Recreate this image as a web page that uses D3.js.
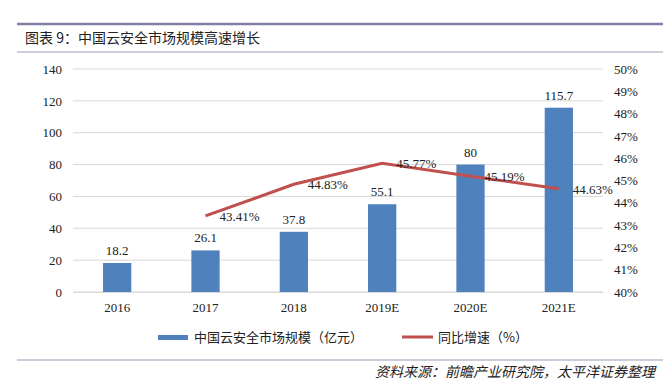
<!DOCTYPE html>
<html>
<head>
<meta charset="utf-8">
<script src="https://cdn.jsdelivr.net/npm/d3@7"></script>
<style>
  body { margin: 0; background: #fff; }
  svg { display: block; }
</style>
</head>
<body>
<div id="chart"></div>
<script>
const years = ["2016", "2017", "2018", "2019E", "2020E", "2021E"];
const marketSize = [18.2, 26.1, 37.8, 55.1, 80, 115.7];
const growth = [null, 43.41, 44.83, 45.77, 45.19, 44.63];
const leftTicks = [0, 20, 40, 60, 80, 100, 120, 140];
const rightTicks = [40, 41, 42, 43, 44, 45, 46, 47, 48, 49, 50];

const width = 663;
const height = 384;
const plot = { left: 73, right: 603, top: 69, bottom: 292 };
const serif = "'Liberation Serif', 'Times New Roman', serif";
const cjk = "'Noto Sans CJK SC', sans-serif";

const svg = d3.select("#chart")
  .append("svg")
  .attr("width", width)
  .attr("height", height);

function numText(sel) {
  sel.style("font-family", serif).style("font-size", "13px").attr("fill", "#222");
}

// header rules and title
svg.append("line")
  .attr("x1", 17).attr("x2", width)
  .attr("y1", 24).attr("y2", 24)
  .attr("stroke", "#7f7fa6").attr("stroke-width", 2.5);
svg.append("line")
  .attr("x1", 17).attr("x2", width)
  .attr("y1", 52).attr("y2", 52)
  .attr("stroke", "#9a9ab8").attr("stroke-width", 1);
svg.append("text")
  .attr("x", 25).attr("y", 43)
  .style("font-family", cjk)
  .style("font-size", "14px")
  .attr("fill", "#222")
  .text("图表 9：中国云安全市场规模高速增长");

const x = d3.scaleBand()
  .domain(years)
  .range([plot.left, plot.right])
  .paddingInner(0.68)
  .paddingOuter(0.34);

const yLeft = d3.scaleLinear().domain([0, 140]).range([plot.bottom, plot.top]);
const yRight = d3.scaleLinear().domain([40, 50]).range([plot.bottom, plot.top]);

// gridlines
svg.append("g")
  .selectAll("line")
  .data(leftTicks)
  .join("line")
  .attr("x1", plot.left).attr("x2", plot.right)
  .attr("y1", (d) => yLeft(d)).attr("y2", (d) => yLeft(d))
  .attr("stroke", "#d9d9d9").attr("stroke-width", 1);

// left axis
const leftAxis = svg.append("g")
  .attr("transform", `translate(${plot.left},0)`)
  .call(d3.axisLeft(yLeft).tickValues(leftTicks).tickSize(0).tickPadding(11));
leftAxis.select(".domain").remove();
leftAxis.selectAll("text").call(numText);

// right axis
const rightAxis = svg.append("g")
  .attr("transform", `translate(${plot.right},0)`)
  .call(d3.axisRight(yRight).tickValues(rightTicks).tickSize(0).tickPadding(11)
    .tickFormat((d) => d + "%"));
rightAxis.select(".domain").remove();
rightAxis.selectAll("text").call(numText);

// bottom axis
const bottomAxis = svg.append("g")
  .attr("transform", `translate(0,${plot.bottom})`)
  .call(d3.axisBottom(x).tickSize(0).tickPadding(11));
bottomAxis.select(".domain").attr("stroke", "#d9d9d9");
bottomAxis.selectAll("text").call(numText);

// bars
svg.append("g")
  .selectAll("rect")
  .data(marketSize)
  .join("rect")
  .attr("x", (d, i) => x(years[i]))
  .attr("y", (d) => yLeft(d))
  .attr("width", x.bandwidth())
  .attr("height", (d) => yLeft(0) - yLeft(d))
  .attr("fill", "#4f81bd");

svg.append("g")
  .selectAll("text")
  .data(marketSize)
  .join("text")
  .call(numText)
  .attr("x", (d, i) => x(years[i]) + x.bandwidth() / 2)
  .attr("y", (d) => yLeft(d) - 8)
  .attr("text-anchor", "middle")
  .text((d) => d);

// growth line
const pts = growth
  .map((g, i) => ({ year: years[i], g }))
  .filter((d) => d.g !== null);

svg.append("path")
  .datum(pts)
  .attr("fill", "none")
  .attr("stroke", "#c0504d")
  .attr("stroke-width", 3)
  .attr("d", d3.line()
    .x((d) => x(d.year) + x.bandwidth() / 2)
    .y((d) => yRight(d.g)));

svg.append("g")
  .selectAll("text")
  .data(pts)
  .join("text")
  .call(numText)
  .attr("x", (d) => x(d.year) + x.bandwidth() / 2 + 14)
  .attr("y", (d) => yRight(d.g) + 5)
  .text((d) => d.g.toFixed(2) + "%");

// legend
const legend = svg.append("g");
legend.append("rect")
  .attr("x", 158).attr("y", 335)
  .attr("width", 30).attr("height", 5)
  .attr("fill", "#4f81bd");
legend.append("text")
  .attr("x", 194).attr("y", 342)
  .style("font-family", cjk)
  .style("font-size", "13px")
  .attr("fill", "#222")
  .text("中国云安全市场规模（亿元）");
legend.append("line")
  .attr("x1", 402).attr("x2", 433)
  .attr("y1", 337).attr("y2", 337)
  .attr("stroke", "#c0504d").attr("stroke-width", 3);
legend.append("text")
  .attr("x", 438).attr("y", 342)
  .style("font-family", cjk)
  .style("font-size", "13px")
  .attr("fill", "#222")
  .text("同比增速（%）");

// footer
svg.append("line")
  .attr("x1", 17).attr("x2", width)
  .attr("y1", 360).attr("y2", 360)
  .attr("stroke", "#9a9ab8").attr("stroke-width", 1);
svg.append("text")
  .attr("x", 655).attr("y", 377)
  .attr("text-anchor", "end")
  .style("font-family", cjk)
  .style("font-size", "14px")
  .style("font-style", "italic")
  .attr("fill", "#222")
  .text("资料来源：前瞻产业研究院，太平洋证券整理");
</script>
</body>
</html>
